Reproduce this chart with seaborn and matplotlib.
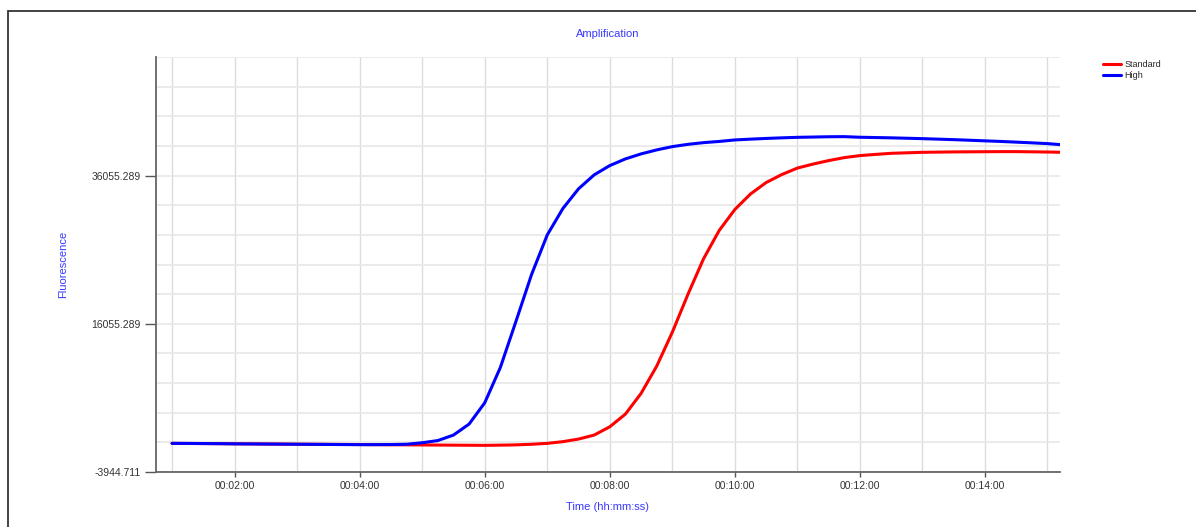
import numpy as np
import pandas as pd
import matplotlib
matplotlib.use('Agg')
from matplotlib import pyplot as plt
from matplotlib.ticker import FuncFormatter, MultipleLocator, FixedLocator
from matplotlib.patches import Rectangle
import seaborn as sbn

# Time in seconds (one reading every 15 s)
time_s = [60 + 15 * i for i in range(58)]

standard = [-80, -93, -107, -120, -134, -147, -161, -174, -188, -201,
            -215, -228, -242, -255, -269, -282, -296, -309, -323, -336,
            -349, -322, -282, -201, -80, 150, 500, 1038, 2156, 3867,
            6654, 10331, 14910, 20028, 24836, 28648, 31476, 33564, 35112, 36190,
            37066, 37604, 38076, 38480, 38749, 38911, 39059, 39126, 39194, 39221,
            39248, 39261, 39275, 39288, 39288, 39261, 39234, 39194]

high = [-80, -92, -106, -120, -147, -160, -174, -187, -201, -214,
        -228, -241, -254, -254, -241, -201, 1, 298, 1038, 2520,
        5389, 10156, 16392, 22722, 28042, 31611, 34264, 36150, 37402, 38305,
        38978, 39517, 39961, 40271, 40500, 40661, 40863, 40971, 41066, 41146,
        41214, 41254, 41295, 41308, 41227, 41187, 41146, 41092, 41038, 40971,
        40904, 40823, 40742, 40661, 40567, 40473, 40365, 40204]

series_names = ['Standard', 'High']
series_colors = {'Standard': '#ff0000', 'High': '#0000ff'}

y_major = [-3944.711, 16055.289, 36055.289]

df = pd.DataFrame({
    'time': time_s * 2,
    'value': standard + high,
    'series': ['Standard'] * len(time_s) + ['High'] * len(time_s),
})

sbn.set_style('white')
plt.rcParams['font.family'] = ['Liberation Sans', 'DejaVu Sans']

fig = plt.figure(figsize=(11.96, 5.27), dpi=100)
ax = fig.add_axes([156 / 1196, 1 - 472 / 527, (1060 - 156) / 1196, (472 - 57) / 527])

sbn.lineplot(data=df, x='time', y='value', hue='series', hue_order=series_names,
             palette=series_colors, linewidth=2.2, ax=ax, legend=False, zorder=3)

ax.set_xlim(44.6, 912)
ax.set_ylim(-3944.711, 52055.289)

# ticks and grid
ax.xaxis.set_major_locator(MultipleLocator(120))
ax.xaxis.set_minor_locator(MultipleLocator(60))
ax.xaxis.set_major_formatter(FuncFormatter(
    lambda v, p: '%02d:%02d:%02d' % (v // 3600, (v % 3600) // 60, v % 60)))
ax.yaxis.set_major_locator(FixedLocator(y_major))
ax.yaxis.set_minor_locator(FixedLocator([-3944.711 + 4000 * k for k in range(15)]))
ax.yaxis.set_major_formatter(FuncFormatter(lambda v, p: '%.3f' % v))

ax.tick_params(axis='x', which='major', length=3.6, width=1, color='#555555',
               labelsize=7.5, labelcolor='#333333', pad=3, direction='out', bottom=True)
ax.tick_params(axis='y', which='major', length=8, width=1, color='#555555',
               labelsize=7.5, labelcolor='#333333', pad=2.9, direction='out', left=True)
ax.tick_params(which='minor', length=0)

ax.grid(True, axis='x', which='both', color='#dcdcdc', linewidth=1)
ax.grid(True, axis='y', which='both', color='#e8e8e8', linewidth=1.2)
ax.set_axisbelow(True)

for side in ['top', 'right']:
    ax.spines[side].set_visible(False)
for side in ['left', 'bottom']:
    ax.spines[side].set_color('#666666')
    ax.spines[side].set_linewidth(1.3)

label_color = '#3838ff'
ax.set_xlabel('Time (hh:mm:ss)', color=label_color, fontsize=8)
ax.set_ylabel('Fluorescence', color=label_color, fontsize=8)
ax.xaxis.set_label_coords((608 - 156) / (1060 - 156), -(502 - 472) / (472 - 57))
ax.yaxis.set_label_coords(-(156 - 68) / (1060 - 156), (472 - 264) / (472 - 57))
fig.text(608 / 1196, 1 - 34 / 527, 'Amplification', color=label_color,
         fontsize=8, ha='center', va='center')

# legend outside on the right
handles = [plt.Line2D([], [], color=series_colors[n], linewidth=2.2) for n in series_names]
fig.legend(handles, series_names, loc='upper left',
           bbox_to_anchor=(1103 / 1196, 1 - 60 / 527), frameon=False,
           fontsize=6.5, handlelength=2.0, handletextpad=0.4,
           labelspacing=0.2, borderpad=0, borderaxespad=0)

# outer frame
fig.patches.append(Rectangle((8 / 1196, -0.2), 1.2, 1.2 - 11 / 527,
                             transform=fig.transFigure, fill=False,
                             edgecolor='#333333', linewidth=1.3))

fig.savefig('out.png', dpi=100)
